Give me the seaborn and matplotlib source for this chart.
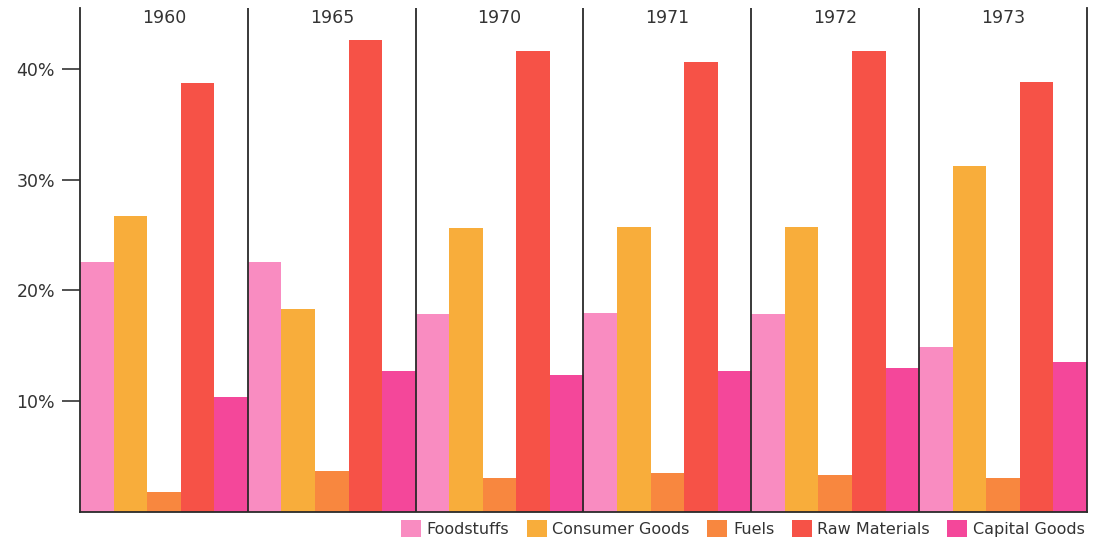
import numpy as np
import pandas as pd
import matplotlib
matplotlib.use("Agg")
import matplotlib.pyplot as plt
import seaborn as sns

years = ["1960", "1965", "1970", "1971", "1972", "1973"]
categories = ["Foodstuffs", "Consumer Goods", "Fuels", "Raw Materials", "Capital Goods"]
foodstuffs = [22.6, 22.6, 17.9, 18.0, 17.9, 14.9]
consumer_goods = [26.7, 18.3, 25.6, 25.7, 25.7, 31.2]
fuels = [1.8, 3.7, 3.1, 3.5, 3.3, 3.1]
raw_materials = [38.7, 42.6, 41.6, 40.6, 41.6, 38.8]
capital_goods = [10.4, 12.7, 12.4, 12.7, 13.0, 13.5]
yticks = [10, 20, 30, 40]
ytick_labels = ["10%", "20%", "30%", "40%"]

colors = ["#F98CC1", "#F8AD3B", "#F8873F", "#F65247", "#F4479A"]

series = [foodstuffs, consumer_goods, fuels, raw_materials, capital_goods]
rows = []
for cat, vals in zip(categories, series):
    for y, v in zip(years, vals):
        rows.append({"Year": y, "Category": cat, "Value": v})
df = pd.DataFrame(rows)

sns.set_theme(style="white")
plt.rcParams['font.family'] = ['DejaVu Sans']

fig = plt.figure(figsize=(11.07, 5.46), dpi=100)
ax = fig.add_axes([80/1107, 34/546, (1087-80)/1107, (512-8)/546])

sns.barplot(data=df, x="Year", y="Value", hue="Category", order=years,
            hue_order=categories, palette=colors, width=1.0, dodge=True,
            saturation=1, linewidth=0, ax=ax, legend=True)

ax.set_xlim(-0.5, len(years) - 0.5)
ax.set_ylim(0, 45.5)
ax.set_xticks([])
ax.set_xlabel("")
ax.set_ylabel("")
ax.set_yticks(yticks)
ax.set_yticklabels(ytick_labels, fontsize=12.5, color="#333333")
ax.tick_params(axis="y", direction="out", length=13, width=1.2, color="#333333", left=True, pad=5)

for s in ["top"]:
    ax.spines[s].set_visible(False)
for s in ["left", "bottom", "right"]:
    ax.spines[s].set_visible(True)
    ax.spines[s].set_color("#2a2a2a")
    ax.spines[s].set_linewidth(1.3)

for i in range(len(years) - 1):
    ax.axvline(i + 0.5, color="#2a2a2a", lw=1.3)

for i, y in enumerate(years):
    ax.text(i, 44.6, y, ha="center", va="center", fontsize=12.5, color="#333333")

handles, labels = ax.get_legend_handles_labels()
ax.get_legend().remove()
fig.legend(handles, labels, loc="lower right", bbox_to_anchor=(0.993, -0.01), ncol=5,
           frameon=False, fontsize=11.5, handlelength=1.25, handleheight=1.25,
           handletextpad=0.35, columnspacing=1.1, labelcolor="#333333")

fig.savefig("out.png", dpi=100, facecolor="white")
